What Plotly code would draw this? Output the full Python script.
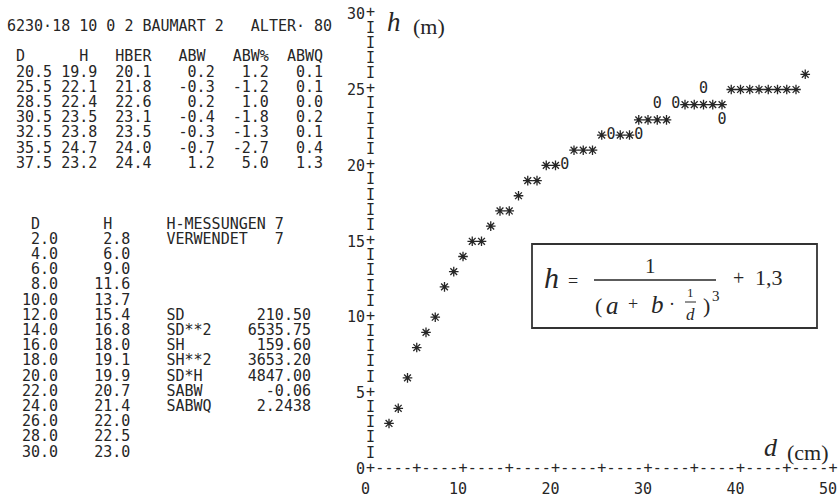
import plotly.graph_objects as go

# ---------------- data ----------------
header_line = "6230·18 10 0 2 BAUMART 2   ALTER· 80"

t1_headers = ["D", "H", "HBER", "ABW", "ABW%", "ABWQ"]
t1_D = [20.5, 25.5, 28.5, 30.5, 32.5, 35.5, 37.5]
t1_H = [19.9, 22.1, 22.4, 23.5, 23.8, 24.7, 23.2]
t1_HBER = [20.1, 21.8, 22.6, 23.1, 23.5, 24.0, 24.4]
t1_ABW = [0.2, -0.3, 0.2, -0.4, -0.3, -0.7, 1.2]
t1_ABWP = [1.2, -1.2, 1.0, -1.8, -1.3, -2.7, 5.0]
t1_ABWQ = [0.1, 0.1, 0.0, 0.2, 0.1, 0.4, 1.3]

t2_headers = ["D", "H"]
t2_D = [2.0, 4.0, 6.0, 8.0, 10.0, 12.0, 14.0, 16.0, 18.0, 20.0, 22.0, 24.0, 26.0, 28.0, 30.0]
t2_H = [2.8, 6.0, 9.0, 11.6, 13.7, 15.4, 16.8, 18.0, 19.1, 19.9, 20.7, 21.4, 22.0, 22.5, 23.0]
info_labels = ["H-MESSUNGEN", "VERWENDET"]
info_values = [7, 7]
stat_labels = ["SD", "SD**2", "SH", "SH**2", "SD*H", "SABW", "SABWQ"]
stat_values = ["210.50", "6535.75", "159.60", "3653.20", "4847.00", "-0.06", "2.2438"]

# printer plot: fitted curve (*) and measured trees (0), in cm / m
curve_d = [2, 3, 4, 5, 6, 7, 8, 9, 10, 11, 12, 13, 14, 15, 16, 17, 18, 19, 20,
           22, 23, 24, 25, 27, 28, 29, 30, 31, 32,
           34, 35, 36, 37, 38, 39, 40, 41, 42, 43, 44, 45, 46, 47]
curve_h = [3, 4, 6, 8, 9, 10, 12, 13, 14, 15, 15, 16, 17, 17, 18, 19, 19, 20, 20,
           21, 21, 21, 22, 22, 22, 23, 23, 23, 23,
           24, 24, 24, 24, 24, 25, 25, 25, 25, 25, 25, 25, 25, 26]
meas_d = [21, 26, 29, 31, 33, 36, 38]
meas_h = [20, 22, 22, 24, 24, 25, 23]

y_ticks = [0, 5, 10, 15, 20, 25, 30]
x_ticks = [0, 10, 20, 30, 40, 50]
y_max, x_max = 30, 51

# ---------------- styling / layout helpers ----------------
MONO = "DejaVu Sans Mono"
HAND = "Liberation Serif"
INK = "#262626"
CW = 9.03  # advance of DejaVu Sans Mono at 15 px
W, H = 840, 497
L, R, T, B = 364, 0, 4, 19
PW, PH = W - L - R, H - T - B
NB = "\u00a0"


def fx(px):
    return (px - L) / PW


def fy(py):
    return 1 - (py - T) / PH


annotations = []


def add_text(px, py, text, size=15, family=MONO, xanchor="left", yanchor="middle"):
    annotations.append(dict(
        x=fx(px), y=fy(py), xref="paper", yref="paper", text=text,
        showarrow=False, xanchor=xanchor, yanchor=yanchor, borderpad=0,
        font=dict(family=family, size=size, color=INK)))


def add_line(px, py, items):
    width = max(c + len(s) for c, s in items)
    buf = [" "] * width
    for c, s in items:
        for i, ch in enumerate(s):
            buf[c + i] = ch
    s = "".join(buf)
    lead = len(s) - len(s.lstrip(" "))
    add_text(px + lead * CW, py, s.lstrip(" ").replace(" ", NB))


def line_y(k):
    return 26 + 15.2 * k


T1_X, T2_X = 6, 12

# table 1
add_line(T1_X, line_y(0), [(0, header_line)])
add_line(T1_X, line_y(2), list(zip([1, 8, 12, 19, 25, 31], t1_headers)))
for i in range(len(t1_D)):
    vals = [f"{t1_D[i]:4.1f}", f"{t1_H[i]:4.1f}", f"{t1_HBER[i]:4.1f}",
            f"{t1_ABW[i]:4.1f}", f"{t1_ABWP[i]:4.1f}", f"{t1_ABWQ[i]:4.1f}"]
    add_line(T1_X, line_y(3 + i), list(zip([1, 6, 12, 19, 25, 31], vals)))

# table 2
add_line(T2_X, line_y(13), [(2, t2_headers[0]), (10, t2_headers[1]),
                            (17, info_labels[0]), (29, str(info_values[0]))])
for i in range(len(t2_D)):
    items = [(0, f"{t2_D[i]:5.1f}"), (5, f"{t2_H[i]:8.1f}")]
    if i == 0:
        items += [(17, info_labels[1]), (29, str(info_values[1]))]
    j = i - 5
    if 0 <= j < len(stat_labels):
        items += [(17, stat_labels[j]), (25, f"{stat_values[j]:>8}")]
    add_line(T2_X, line_y(14 + i), items)

# handwritten labels
add_text(386, 22, "<i>h</i>", size=27, family=HAND)
add_text(412, 27, "(m)", size=22, family=HAND)
add_text(763, 447, "<i>d</i>", size=26, family=HAND)
add_text(786, 452, "(cm)", size=22, family=HAND)

# formula
add_text(551, 277, "<i>h</i>", size=30, family=HAND, xanchor="center")
add_text(573, 281, "=", size=18, family=HAND, xanchor="center")
add_text(650, 266, "1", size=21, family=HAND, xanchor="center")
add_text(598, 305, "(", size=22, family=HAND, xanchor="center")
add_text(612, 305, "<i>a</i>", size=25, family=HAND, xanchor="center")
add_text(633, 304, "+", size=18, family=HAND, xanchor="center")
add_text(657, 304, "<i>b</i>", size=25, family=HAND, xanchor="center")
add_text(672, 304, "·", size=18, family=HAND, xanchor="center")
add_text(690, 292, "1", size=13, family=HAND, xanchor="center")
add_text(690, 314, "<i>d</i>", size=17, family=HAND, xanchor="center")
add_text(706, 305, ")", size=22, family=HAND, xanchor="center")
add_text(716, 296, "3", size=15, family=HAND, xanchor="center")
add_text(738, 278, "+", size=20, family=HAND, xanchor="center")
add_text(769, 277, "1,3", size=22, family=HAND, xanchor="center")

shapes = [
    dict(type="rect", xref="paper", yref="paper", x0=fx(532), x1=fx(817),
         y0=fy(328), y1=fy(244), line=dict(color="#333", width=1.8)),
    dict(type="line", xref="paper", yref="paper", x0=fx(594), x1=fx(716),
         y0=fy(280), y1=fy(280), line=dict(color=INK, width=1.3)),
    dict(type="line", xref="paper", yref="paper", x0=fx(685), x1=fx(696),
         y0=fy(302), y1=fy(302), line=dict(color=INK, width=1)),
]

# printer axes (characters)
axis_x = [0] * (y_max + 1) + list(range(1, x_max + 1))
axis_y = list(range(y_max + 1)) + [0] * x_max
axis_t = ["+" if r % 5 == 0 else "I" for r in range(y_max + 1)] + \
         ["+" if c % 5 == 0 else "-" for c in range(1, x_max + 1)]

fig = go.Figure()
fig.add_trace(go.Scatter(x=axis_x, y=axis_y, text=axis_t, mode="text",
                         textfont=dict(family=MONO, size=15, color=INK),
                         cliponaxis=False, hoverinfo="skip", showlegend=False))
fig.add_trace(go.Scatter(x=curve_d, y=curve_h, mode="markers",
                         marker=dict(symbol="asterisk-open", size=8, color=INK,
                                     line=dict(width=1.3, color=INK)),
                         cliponaxis=False, showlegend=False))
fig.add_trace(go.Scatter(x=meas_d, y=meas_h, mode="text", text=["0"] * len(meas_d),
                         textfont=dict(family=MONO, size=15, color=INK),
                         cliponaxis=False, showlegend=False))

fig.update_layout(
    width=W, height=H, paper_bgcolor="white", plot_bgcolor="white",
    margin=dict(l=L, r=R, t=T, b=B, autoexpand=False),
    annotations=annotations, shapes=shapes, showlegend=False,
    xaxis=dict(range=[-0.7027, 50.757], showgrid=False, zeroline=False, showline=False,
               tickvals=x_ticks, ticktext=[str(v) for v in x_ticks], ticks="",
               tickfont=dict(family=MONO, size=15, color=INK), ticklabelshift=-5),
    yaxis=dict(range=[-0.593, 30.632], showgrid=False, zeroline=False, showline=False,
               tickvals=y_ticks, ticktext=[str(v) for v in y_ticks], ticks="",
               tickfont=dict(family=MONO, size=15, color=INK), ticklabelstandoff=-2),
)

fig.write_html("out.html", config={"displayModeBar": False},
               post_script="document.body.style.margin='0px';")
